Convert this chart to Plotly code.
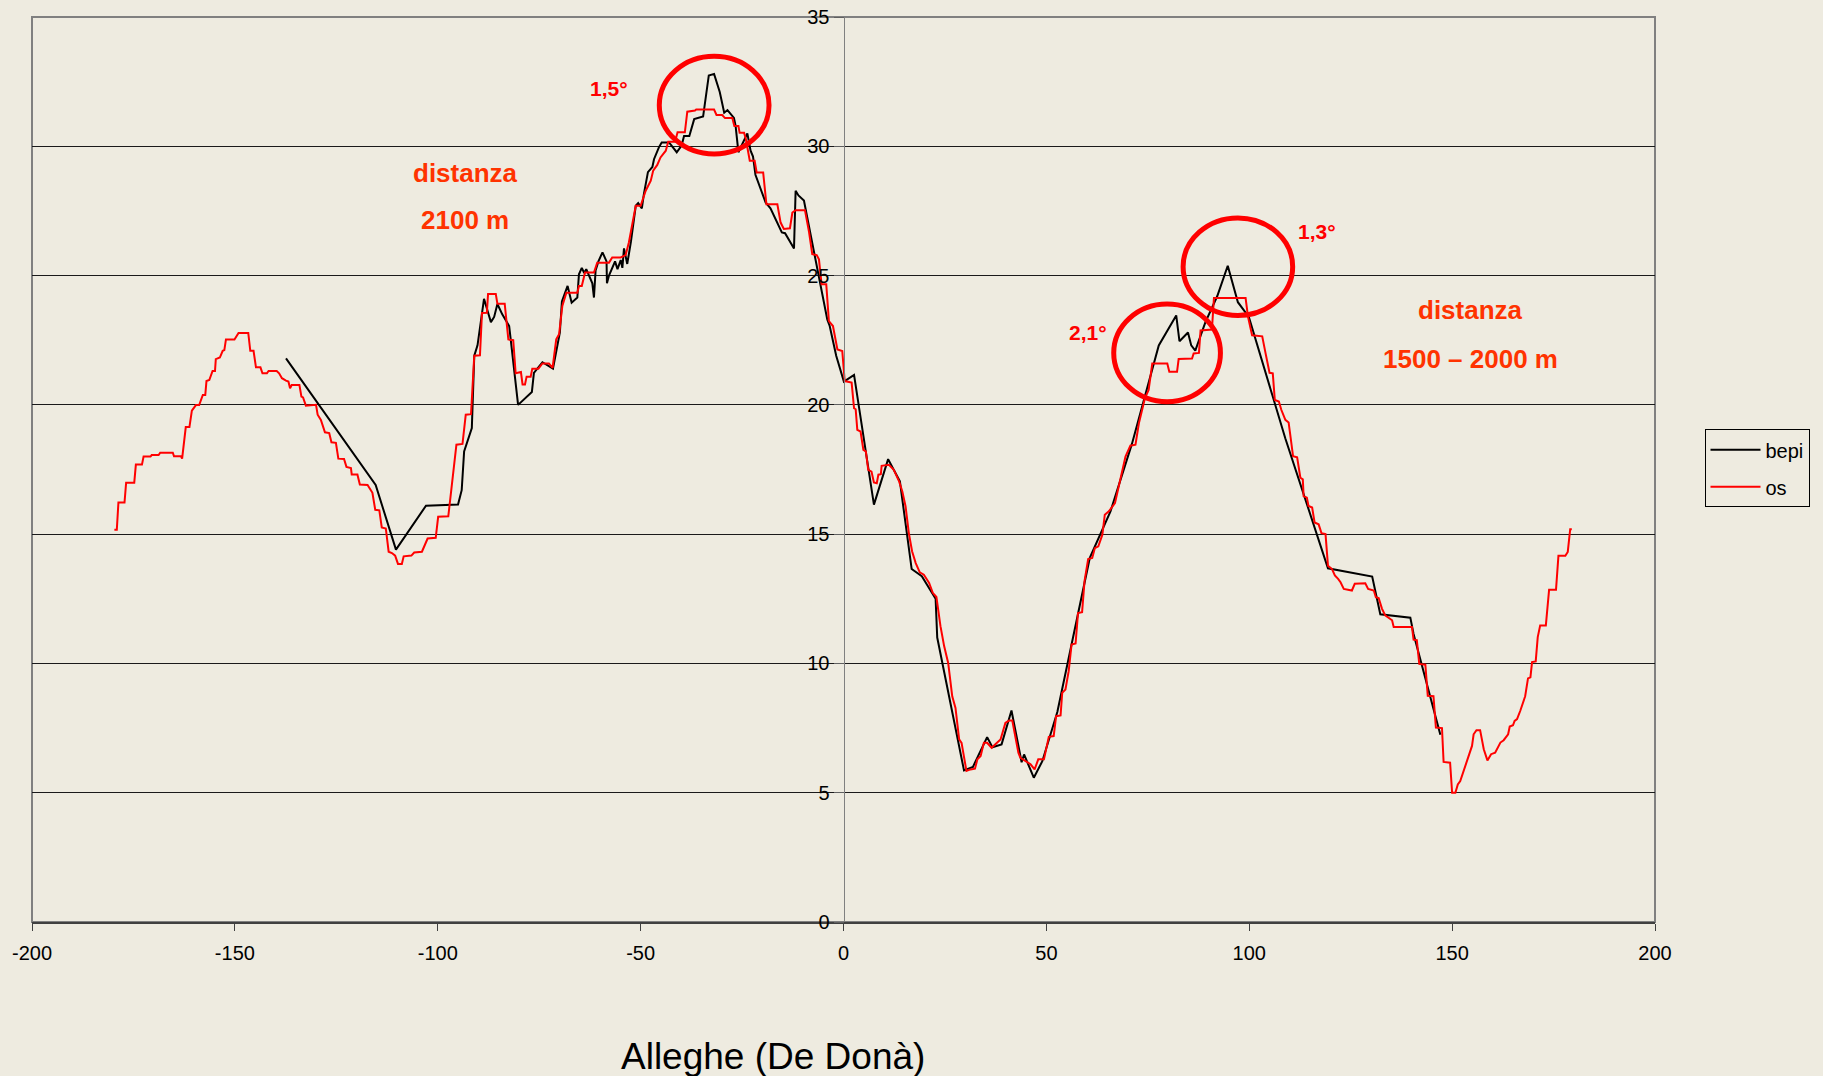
import plotly.graph_objects as go

# ---------------- data ----------------
bepi_x = [-137.4, -115.3, -110.3, -102.9, -95.0, -94.1, -93.5, -91.6, -91.0, -90.2, -88.6,
          -87.3, -86.9, -86.1, -85.3, -84.1, -82.4, -82.0, -80.2, -76.8, -76.3, -74.2, -71.6,
          -69.9, -69.4, -68.0, -67.0, -65.6, -65.2, -64.5, -63.9, -63.4, -61.9, -61.5, -61.1,
          -60.4, -59.4, -58.4, -58.3, -57.8, -56.8, -56.3, -55.7, -54.9, -54.5, -54.1, -53.3,
          -52.4, -51.2, -50.6, -49.7, -49.2, -48.2, -47.1, -46.7, -45.5, -44.8, -43.0, -41.1,
          -39.9, -39.3, -38.0, -36.8, -34.6, -33.2, -31.9, -30.5, -29.4, -28.6, -27.0, -26.6,
          -25.9, -23.7, -22.9, -22.3, -21.7, -19.2, -18.0, -15.2, -14.4, -12.2, -11.8, -11.1,
          -9.75, -4.0, -3.4, -1.8, 0.1, 2.6,
          7.5, 11.0, 13.9, 16.8, 19.3, 22.7, 23.1, 29.7, 31.9, 35.4, 36.7, 38.96, 41.4, 43.9,
          44.5, 46.9, 49.0, 52.7, 55.95, 60.7, 65.8,
          71.1, 77.7, 82.0, 82.8, 84.9, 85.7, 86.7, 89.2, 92.1, 94.7, 97.2, 99.9, 108.9,
          119.4, 130.3, 132.3, 139.7, 140.5, 147.1]
bepi_y = [21.8, 16.9, 14.4, 16.1, 16.15, 16.7, 18.2, 19.1, 21.9, 22.3, 24.1,
          23.4, 23.2, 23.4, 23.9, 23.5, 23.05, 22.5, 20.0, 20.5, 21.24, 21.65, 21.4,
          22.8, 24.0, 24.6, 23.95, 24.15, 25.05, 25.3, 25.1, 25.25, 24.7, 24.15, 25.2,
          25.55, 25.9, 25.55, 24.7, 25.0, 25.4, 25.55, 25.25, 25.6, 25.3, 26.05, 25.45,
          26.3, 27.7, 27.8, 27.6, 28.15, 29.0, 29.2, 29.5, 29.96, 30.15, 30.15, 29.77,
          30.03, 30.4, 30.4, 31.05, 31.15, 32.74, 32.8, 32.1, 31.3, 31.4, 31.1, 30.8,
          29.77, 30.5, 29.83, 29.6, 28.9, 27.83, 27.6, 26.67, 26.64, 26.05, 28.28, 28.1,
          27.9, 23.3, 23.05, 21.9, 20.9, 21.16,
          16.14, 17.9, 17.04, 13.65, 13.37, 12.5, 11.0, 5.86, 6.0, 7.15, 6.76, 6.87, 8.18, 6.18,
          6.48, 5.58, 6.22, 8.12, 10.6, 14.08, 15.88,
          18.5, 22.3, 23.46, 22.46, 22.8, 22.3, 22.1, 23.2, 24.2, 25.38, 23.97, 23.4, 18.7,
          13.68, 13.36, 11.9, 11.77, 11.14, 7.24]

os_x = [-179.7, -179.1, -178.7, -177.2, -176.8, -174.8, -174.4, -172.9, -172.5, -170.8,
        -170.5, -168.8, -168.4, -165.3, -165.0, -163.3, -163.0, -162.1, -161.2, -160.6,
        -159.6, -158.8, -157.9, -157.3, -157.0, -156.3, -155.5, -154.9, -154.7, -153.7,
        -153.0, -152.6, -152.2, -150.1, -149.1, -146.7, -146.2, -145.4, -144.8, -143.7,
        -143.2, -142.1, -141.7, -139.7, -139.1, -138.4, -137.4, -136.8, -136.4, -136.0,
        -134.1, -133.6, -133.2, -132.5, -130.0, -129.6, -128.8, -127.8, -126.75, -126.2,
        -125.1, -124.5, -123.1, -122.5, -121.4, -121.2, -119.8, -119.2, -117.3, -116.7,
        -116.1, -115.4, -114.4, -113.8, -112.8, -112.1, -111.3, -110.5, -109.8, -108.85,
        -108.4, -106.5, -105.8, -103.9, -102.5, -100.5, -99.9, -97.4, -96.5, -95.4,
        -93.9, -93.1, -91.8, -91.0, -89.6, -89.1, -87.9, -87.6, -85.7, -85.3,
        -83.5, -82.6, -81.4, -80.8, -79.5, -79.1, -78.5, -78.1, -77.1, -76.7,
        -75.2, -74.2, -72.6, -71.7, -70.8, -70.1, -69.3, -68.3, -65.6, -65.2,
        -64.5, -63.7, -61.5, -60.7, -57.8, -57.0, -54.9, -53.7, -52.9, -51.2,
        -50.0, -48.75, -47.5, -46.9, -45.9, -45.1, -43.8, -43.2, -41.5, -40.9,
        -39.1, -38.5, -36.6, -36.3, -31.9, -31.3, -29.9, -29.2, -27.4, -26.9,
        -25.9, -25.6, -24.5, -24.1, -23.1, -21.9, -21.4, -19.8, -19.0, -16.3,
        -15.5, -14.7, -13.2, -12.6, -11.8, -9.5, -8.5, -7.7, -6.6, -6.05,
        -5.4, -4.25, -3.6, -2.6, -1.5, -0.3, 0.3, 2.0, 2.6, 3.0,
        3.4, 4.2, 4.9, 5.5, 6.1, 6.9, 7.5, 8.2, 8.6, 9.2,
        9.4, 11.2, 12.4, 13.7, 14.5, 15.3, 16.1, 16.9, 17.8, 18.8,
        19.8, 21.1, 22.0, 22.9, 23.9, 24.8, 25.8, 26.8, 27.6, 28.5,
        29.1, 30.3, 31.3, 32.4, 33.0, 33.8, 34.6, 35.4, 36.5, 37.9,
        38.7, 39.9, 40.8, 41.6, 42.4, 43.1, 43.6, 45.3, 46.1, 47.1,
        48.0, 49.4, 50.6, 51.8, 52.4, 53.5, 53.9, 54.7, 55.5, 56.2,
        57.2, 57.8, 58.8, 59.4, 60.3, 61.3, 61.95, 62.8, 63.8, 64.4,
        65.4, 66.9, 67.9, 68.7, 69.5, 70.7, 71.96, 72.8, 74.3, 75.2,
        76.1, 79.8, 80.3, 82.2, 82.6, 85.9, 86.3, 87.6, 88.0, 90.8,
        91.3, 99.1, 99.7, 100.7, 103.2, 104.0, 105.0, 105.8, 106.3, 107.3,
        107.9, 108.9, 109.7, 110.1, 110.8, 111.8, 112.6, 113.2, 113.4, 114.2,
        114.6, 115.5, 116.1, 117.1, 117.8, 118.8, 119.4, 120.4, 121.1, 121.9,
        122.5, 123.3, 125.3, 126.0, 128.6, 129.3, 130.7, 131.2, 131.9, 132.7,
        133.5, 135.2, 135.6, 140.1, 140.5, 141.3, 141.9, 143.4, 144.0, 145.4,
        146.0, 147.5, 147.9, 149.5, 150.0, 150.8, 151.4, 152.0, 153.1, 154.1,
        154.9, 155.3, 156.0, 156.9, 157.8, 158.7, 159.6, 160.6, 161.2, 161.9,
        162.7, 163.8, 164.2, 165.0, 165.4, 166.0, 166.8, 167.6, 168.0, 168.7,
        169.3, 169.7, 170.6, 171.1, 171.7, 173.1, 173.9, 175.6, 176.2, 177.9,
        178.5, 179.1, 179.5]
os_y = [15.17, 15.17, 16.22, 16.22, 16.99, 16.99, 17.69, 17.69, 18.0, 18.0,
        18.06, 18.06, 18.15, 18.15, 18.01, 18.01, 17.92, 19.14, 19.14, 19.78,
        19.99, 19.99, 20.38, 20.38, 20.92, 20.96, 21.31, 21.31, 21.77, 21.83,
        22.09, 22.12, 22.53, 22.53, 22.78, 22.78, 22.09, 22.09, 21.45, 21.45,
        21.22, 21.22, 21.31, 21.31, 21.22, 21.03, 20.94, 20.9, 20.64, 20.77,
        20.77, 20.32, 20.29, 19.97, 20.0, 19.62, 19.42, 18.94, 18.91, 18.55,
        18.53, 17.92, 17.91, 17.6, 17.56, 17.31, 17.31, 16.92, 16.9, 16.76,
        16.6, 15.94, 15.92, 15.26, 15.22, 14.32, 14.27, 14.17, 13.85, 13.85,
        14.14, 14.17, 14.29, 14.32, 14.83, 14.86, 15.67, 15.69, 17.05, 18.46,
        18.49, 19.62, 19.64, 21.9, 21.92, 23.55, 23.56, 24.29, 24.29, 23.91,
        23.91, 22.53, 22.5, 21.22, 21.27, 20.79, 20.79, 21.09, 21.09, 21.4,
        21.4, 21.6, 21.6, 21.43, 22.53, 22.73, 23.82, 24.34, 24.34, 24.6,
        24.6, 25.12, 25.12, 25.5, 25.5, 25.7, 25.7, 25.79, 26.28, 27.7,
        27.7, 28.28, 28.67, 29.06, 29.28, 29.57, 29.83, 30.18, 30.18, 30.54,
        30.54, 31.34, 31.38, 31.42, 31.42, 31.21, 31.21, 31.09, 31.09, 30.78,
        30.78, 30.52, 30.52, 30.31, 29.44, 29.44, 28.99, 28.99, 27.76, 27.76,
        27.05, 26.8, 26.83, 27.44, 27.53, 27.53, 26.69, 25.83, 25.79, 25.63,
        24.66, 24.66, 23.24, 23.05, 22.14, 22.08, 20.92, 20.86, 19.87, 19.83,
        19.03, 18.97, 18.26, 18.2, 17.49, 17.42, 17.0, 16.97, 17.3, 17.32,
        17.64, 17.68, 17.49, 17.04, 16.65, 16.07, 15.04, 14.34, 13.88, 13.52,
        13.43, 13.11, 12.73, 12.57, 11.44, 10.67, 10.02, 8.73, 8.28, 7.06,
        6.93, 5.84, 5.9, 5.93, 6.29, 6.42, 6.93, 6.93, 6.74, 6.96,
        7.06, 7.7, 7.79, 7.79, 7.19, 6.55, 6.35, 6.16, 6.1, 5.9,
        6.29, 6.29, 7.16, 7.19, 7.96, 7.99, 8.86, 8.99, 9.7, 10.73,
        10.77, 11.95, 11.98, 13.18, 14.04, 14.08, 14.46, 14.53, 14.98, 15.75,
        15.88, 16.2, 16.91, 17.36, 18.0, 18.42, 18.46, 19.29, 20.26, 20.58,
        21.6, 21.6, 21.28, 21.28, 21.77, 21.79, 21.99, 22.01, 22.88, 22.91,
        24.13, 24.13, 23.4, 22.69, 22.65, 22.01, 21.24, 21.22, 20.19, 20.13,
        19.81, 19.42, 19.32, 18.85, 18.01, 17.97, 17.18, 17.12, 16.47, 16.41,
        16.09, 16.03, 15.45, 15.38, 15.04, 15.0, 13.78, 13.65, 13.4, 13.27,
        13.14, 12.88, 12.82, 13.08, 13.1, 12.88, 12.82, 12.56, 12.53, 12.12,
        11.86, 11.67, 11.41, 11.41, 10.92, 10.9, 9.98, 9.95, 8.75, 8.73,
        7.52, 7.5, 6.19, 6.16, 5.0, 5.0, 5.32, 5.45, 5.97, 6.36,
        6.81, 7.26, 7.42, 7.42, 6.68, 6.25, 6.49, 6.55, 6.71, 6.94,
        7.03, 7.26, 7.56, 7.61, 7.78, 7.85, 8.17, 8.6, 8.73, 9.42,
        9.46, 10.05, 10.08, 11.02, 11.47, 11.47, 12.85, 12.85, 14.16, 14.16,
        14.31, 15.19, 15.19]

x_ticks = [-200, -150, -100, -50, 0, 50, 100, 150, 200]
x_ticktext = ["-200", "-150", "-100", "-50", "0", "50", "100", "150", "200"]
y_ticks = [0, 5, 10, 15, 20, 25, 30, 35]
series_names = ["bepi", "os"]
x_title = "Alleghe (De Donà)"

# annotation texts: (text, x, y, kind)
labels = [
    ("1,5°", -57.7, 32.25, "deg"),
    ("2,1°", 60.2, 22.8, "deg"),
    ("1,3°", 116.6, 26.7, "deg"),
    ("distanza", -93.2, 28.97, "dist"),
    ("2100 m", -93.2, 27.14, "dist"),
    ("distanza", 154.6, 23.65, "dist"),
    ("1500 – 2000 m", 154.6, 21.78, "dist"),
]
# highlight circles: (x0, x1, y0, y1)
circles = [
    (-45.4, -18.35, 29.7, 33.48),
    (66.6, 92.9, 20.12, 23.9),
    (83.7, 110.7, 23.46, 27.23),
]

# ---------------- figure ----------------
BG = "#EEEBE0"
FONT = "Liberation Sans, Arial, sans-serif"

fig = go.Figure()
fig.add_trace(go.Scatter(x=bepi_x, y=bepi_y, mode="lines", name=series_names[0],
                         legendgroup="g1", line=dict(color="#000000", width=2)))
fig.add_trace(go.Scatter(x=os_x, y=os_y, mode="lines", name=series_names[1],
                         legendgroup="g2", line=dict(color="#FF0000", width=2)))

for txt, x, y, kind in labels:
    if kind == "deg":
        f = dict(family=FONT, size=21, color="#FF0000")
    else:
        f = dict(family=FONT, size=26, color="#FF3300")
    fig.add_annotation(x=x, y=y, xref="x", yref="y", text="<b>%s</b>" % txt,
                       showarrow=False, font=f, xanchor="center", yanchor="middle")

for x0, x1, y0, y1 in circles:
    fig.add_shape(type="circle", xref="x", yref="y", x0=x0, x1=x1, y0=y0, y1=y1,
                  line=dict(color="#FF0000", width=5), layer="above")

# plot frame
fig.add_shape(type="rect", xref="paper", yref="paper", x0=0, x1=1, y0=0, y1=1,
              line=dict(color="#808080", width=2), layer="below")

fig.add_annotation(x=0.4566, y=-0.149, xref="paper", yref="paper", text=x_title,
                   showarrow=False, font=dict(family=FONT, size=37, color="#000000"),
                   xanchor="center", yanchor="middle")

fig.update_layout(
    width=1823, height=1076,
    margin=dict(l=32, r=168, t=17, b=154, autoexpand=False),
    paper_bgcolor=BG, plot_bgcolor=BG,
    font=dict(family=FONT, size=20, color="#000000"),
    showlegend=True,
    legend=dict(x=1.0305, y=0.5445, xanchor="left", yanchor="top",
                bordercolor="#000000", borderwidth=1, bgcolor="rgba(0,0,0,0)",
                itemwidth=50, tracegroupgap=8,
                font=dict(family=FONT, size=20, color="#000000")),
    xaxis=dict(range=[-200, 200], tickvals=x_ticks, ticktext=x_ticktext,
               ticks="outside", ticklen=7, ticklabelstandoff=5, automargin=False,
               tickcolor="#404040", tickwidth=1, showline=True, linecolor="#404040",
               linewidth=2, showgrid=False, zeroline=False,
               tickfont=dict(family=FONT, size=20, color="#000000")),
    yaxis=dict(range=[0, 35], tickvals=y_ticks, ticks="outside", ticklen=10,
               automargin=False,
               tickcolor="#606060", tickwidth=1, showline=True, linecolor="#808080",
               linewidth=1, showgrid=True, gridcolor="#1a1a1a", gridwidth=1,
               zeroline=False, anchor="free", position=0.5,
               tickfont=dict(family=FONT, size=20, color="#000000")),
)

fig.write_html("out.html", config={"displayModeBar": False},
               post_script="document.body.style.margin='0';document.body.style.overflow='hidden';")
